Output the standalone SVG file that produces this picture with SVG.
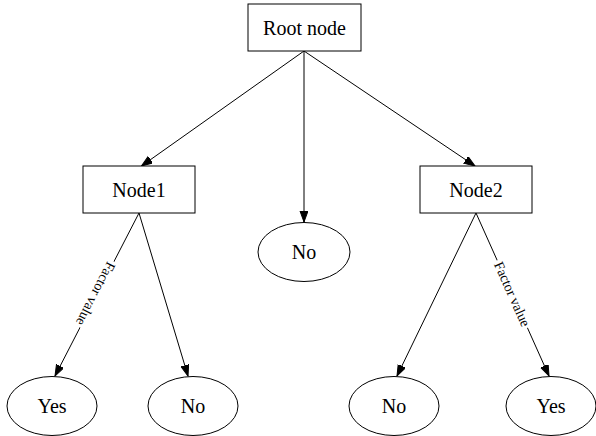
<svg xmlns="http://www.w3.org/2000/svg" width="596" height="436" viewBox="0 0 596 436">
<style>
.box{fill:#fff;stroke:#000;stroke-width:1}
.ell{fill:#fff;stroke:#000;stroke-width:1}
.t{font-family:"Liberation Serif","Times New Roman",serif;font-size:20px;text-anchor:middle;fill:#000}
.e{stroke:#000;stroke-width:1;fill:none;marker-end:url(#ah)}
.lbl{font-family:"Liberation Serif","Times New Roman",serif;font-size:14px;text-anchor:middle;fill:#000}
</style>
<defs>
<marker id="ah" markerUnits="userSpaceOnUse" markerWidth="12" markerHeight="10" refX="11" refY="4" orient="auto">
<path d="M0,0 L11,4 L0,8 Z" fill="#000" stroke="#000" stroke-width="1"/>
</marker>
</defs>
<rect width="596" height="436" fill="#fff"/>
<g id="edges">
<line class="e" x1="304" y1="51" x2="141.5" y2="166"/>
<line class="e" x1="304" y1="51" x2="304" y2="222"/>
<line class="e" x1="304" y1="51" x2="475" y2="166"/>
<line class="e" x1="139" y1="213" x2="55" y2="376"/>
<line class="e" x1="139" y1="213" x2="188" y2="376"/>
<line class="e" x1="476" y1="213" x2="397" y2="376"/>
<line class="e" x1="476" y1="213" x2="549" y2="376"/>
<g transform="translate(96,294) rotate(117.3)">
<rect x="-37" y="-5" width="74" height="10" fill="#fff"/>
<text class="lbl" x="0" y="5">Factor value</text>
</g>
<g transform="translate(512.5,294) rotate(65.9)">
<rect x="-37" y="-5" width="74" height="10" fill="#fff"/>
<text class="lbl" x="0" y="5">Factor value</text>
</g>
</g>
<g id="root">
<rect class="box" x="248" y="4" width="113" height="47"/>
<text class="t" x="304.5" y="34.5">Root node</text>
</g>
<g id="node1">
<rect class="box" x="83" y="166" width="112" height="47"/>
<text class="t" x="139" y="196.5">Node1</text>
</g>
<g id="node2">
<rect class="box" x="420" y="166" width="112" height="47"/>
<text class="t" x="476" y="196.5">Node2</text>
</g>
<g id="no_mid">
<ellipse class="ell" cx="304" cy="252" rx="46" ry="29.5"/>
<text class="t" x="304" y="259">No</text>
</g>
<g id="yes1">
<ellipse class="ell" cx="52" cy="406" rx="45" ry="29.5"/>
<text class="t" x="52" y="413">Yes</text>
</g>
<g id="no1">
<ellipse class="ell" cx="193" cy="406" rx="45" ry="29.5"/>
<text class="t" x="193" y="413">No</text>
</g>
<g id="no2">
<ellipse class="ell" cx="394" cy="406" rx="45" ry="29.5"/>
<text class="t" x="394" y="413">No</text>
</g>
<g id="yes2">
<ellipse class="ell" cx="551" cy="406" rx="45" ry="29.5"/>
<text class="t" x="551" y="413">Yes</text>
</g>
</svg>
